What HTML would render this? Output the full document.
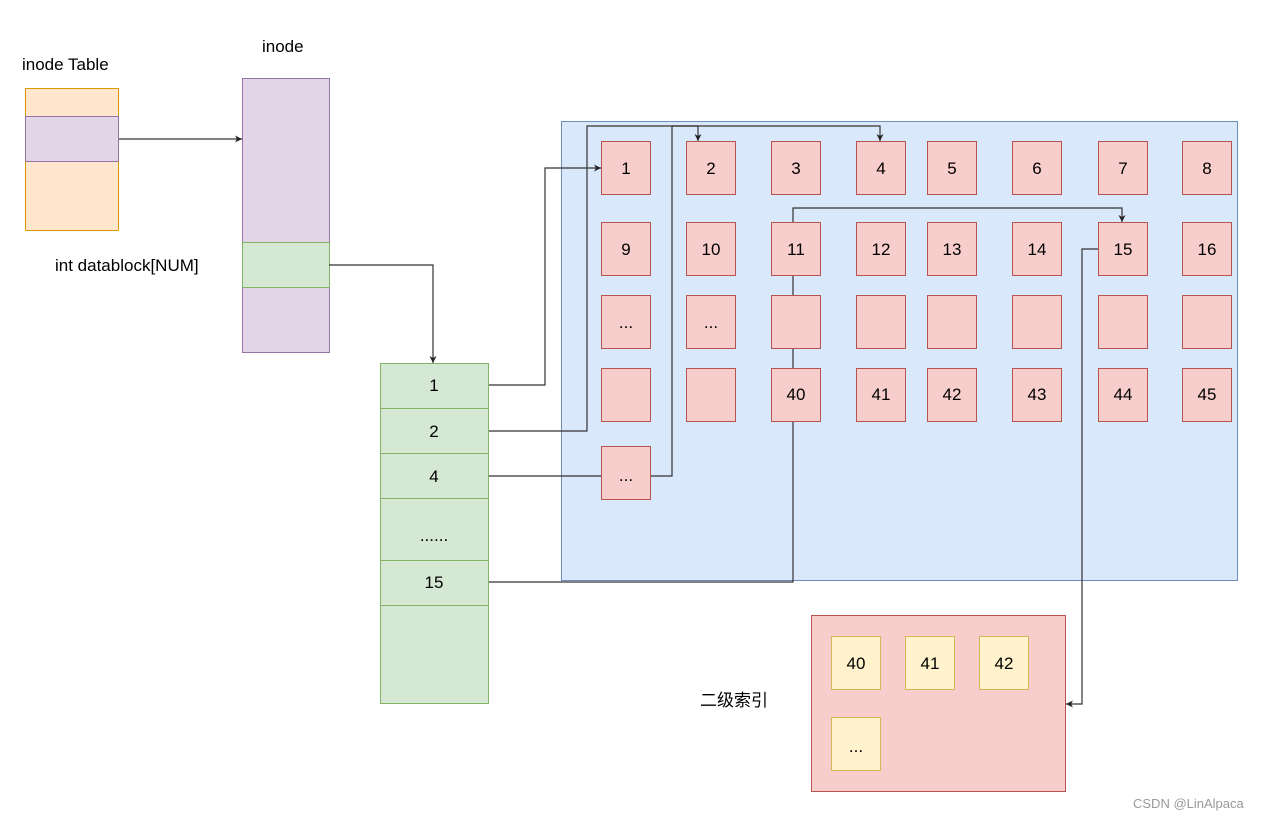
<!DOCTYPE html>
<html><head><meta charset="utf-8"><style>
body{margin:0;background:#fff}
svg text{font-family:"Liberation Sans","Noto Sans CJK SC",sans-serif;font-size:17px;fill:#000}
</style></head><body>
<svg width="1266" height="820" viewBox="0 0 1266 820" xmlns="http://www.w3.org/2000/svg">
<defs><marker id="a" markerWidth="8" markerHeight="8" refX="7" refY="4" orient="auto" markerUnits="userSpaceOnUse"><path d="M0,0.5 L7,4 L0,7.5 L2,4z" fill="#222"/></marker></defs>
<rect width="1266" height="820" fill="#fff"/>
<!-- inode table -->
<rect x="25.5" y="88.5" width="93" height="142" fill="#ffe6cc" stroke="#d79b00"/>
<rect x="25.5" y="116.5" width="93" height="45" fill="#e1d5e7" stroke="#9673a6"/>
<text x="22" y="70">inode Table</text>
<!-- inode -->
<rect x="242.5" y="78.5" width="87" height="274" fill="#e1d5e7" stroke="#9673a6"/>
<rect x="242.5" y="242.5" width="87" height="45" fill="#d5e8d4" stroke="#82b366"/>
<text x="262" y="52">inode</text>
<text x="55" y="271">int datablock[NUM]</text>
<!-- blue container -->
<rect x="561.5" y="121.5" width="676" height="459" fill="#dae8fc" stroke="#6c8ebf"/>
<!-- connectors -->
<g fill="none" stroke="#333" stroke-width="1.2">
<path d="M119,139 H242" marker-end="url(#a)"/>
<path d="M329,265 H433 V363" marker-end="url(#a)"/>
<path d="M489,385 H545 V168 H601" marker-end="url(#a)"/>
<path d="M489,431 H587 V126 H698 V141" marker-end="url(#a)"/>
<path d="M489,476 H601"/>
<path d="M651,476 H672 V126 H880 V141" marker-end="url(#a)"/>
<path d="M489,582 H793 V208 H1122 V222" marker-end="url(#a)"/>
<path d="M1098,249 H1082 V704 H1066" marker-end="url(#a)"/>
</g>
<!-- green list -->
<g fill="#d5e8d4" stroke="#82b366">
<rect x="380.5" y="363.5" width="108" height="45"/>
<rect x="380.5" y="408.5" width="108" height="45"/>
<rect x="380.5" y="453.5" width="108" height="45"/>
<rect x="380.5" y="498.5" width="108" height="62"/>
<rect x="380.5" y="560.5" width="108" height="45"/>
<rect x="380.5" y="605.5" width="108" height="98"/>
</g>
<g text-anchor="middle">
<text x="434" y="391">1</text><text x="434" y="437">2</text><text x="434" y="482">4</text>
<text x="434" y="541">......</text><text x="434" y="588">15</text>
</g>
<!-- red boxes -->
<g fill="#f8cecc" stroke="#b85450">
<rect x="601.5" y="141.5" width="49" height="53"/><rect x="686.5" y="141.5" width="49" height="53"/><rect x="771.5" y="141.5" width="49" height="53"/><rect x="856.5" y="141.5" width="49" height="53"/><rect x="927.5" y="141.5" width="49" height="53"/><rect x="1012.5" y="141.5" width="49" height="53"/><rect x="1098.5" y="141.5" width="49" height="53"/><rect x="1182.5" y="141.5" width="49" height="53"/>
<rect x="601.5" y="222.5" width="49" height="53"/><rect x="686.5" y="222.5" width="49" height="53"/><rect x="771.5" y="222.5" width="49" height="53"/><rect x="856.5" y="222.5" width="49" height="53"/><rect x="927.5" y="222.5" width="49" height="53"/><rect x="1012.5" y="222.5" width="49" height="53"/><rect x="1098.5" y="222.5" width="49" height="53"/><rect x="1182.5" y="222.5" width="49" height="53"/>
<rect x="601.5" y="295.5" width="49" height="53"/><rect x="686.5" y="295.5" width="49" height="53"/><rect x="771.5" y="295.5" width="49" height="53"/><rect x="856.5" y="295.5" width="49" height="53"/><rect x="927.5" y="295.5" width="49" height="53"/><rect x="1012.5" y="295.5" width="49" height="53"/><rect x="1098.5" y="295.5" width="49" height="53"/><rect x="1182.5" y="295.5" width="49" height="53"/>
<rect x="601.5" y="368.5" width="49" height="53"/><rect x="686.5" y="368.5" width="49" height="53"/><rect x="771.5" y="368.5" width="49" height="53"/><rect x="856.5" y="368.5" width="49" height="53"/><rect x="927.5" y="368.5" width="49" height="53"/><rect x="1012.5" y="368.5" width="49" height="53"/><rect x="1098.5" y="368.5" width="49" height="53"/><rect x="1182.5" y="368.5" width="49" height="53"/>
<rect x="601.5" y="446.5" width="49" height="53"/>
</g>
<g text-anchor="middle">
<text x="626" y="174">1</text><text x="711" y="174">2</text><text x="796" y="174">3</text><text x="881" y="174">4</text><text x="952" y="174">5</text><text x="1037" y="174">6</text><text x="1123" y="174">7</text><text x="1207" y="174">8</text>
<text x="626" y="255">9</text><text x="711" y="255">10</text><text x="796" y="255">11</text><text x="881" y="255">12</text><text x="952" y="255">13</text><text x="1037" y="255">14</text><text x="1123" y="255">15</text><text x="1207" y="255">16</text>
<text x="626" y="328">...</text><text x="711" y="328">...</text>
<text x="796" y="400">40</text><text x="881" y="400">41</text><text x="952" y="400">42</text><text x="1037" y="400">43</text><text x="1123" y="400">44</text><text x="1207" y="400">45</text>
<text x="626" y="481">...</text>
</g>
<!-- secondary index -->
<rect x="811.5" y="615.5" width="254" height="176" fill="#f8cecc" stroke="#b85450"/>
<g fill="#fff2cc" stroke="#d6b656">
<rect x="831.5" y="636.5" width="49" height="53"/><rect x="905.5" y="636.5" width="49" height="53"/><rect x="979.5" y="636.5" width="49" height="53"/><rect x="831.5" y="717.5" width="49" height="53"/>
</g>
<g text-anchor="middle">
<text x="856" y="669">40</text><text x="930" y="669">41</text><text x="1004" y="669">42</text><text x="856" y="752">...</text>
</g>
<text x="700" y="706">二级索引</text>
<text x="1133" y="808" style="font-size:13px;fill:#999">CSDN @LinAlpaca</text>
</svg>
</body></html>
